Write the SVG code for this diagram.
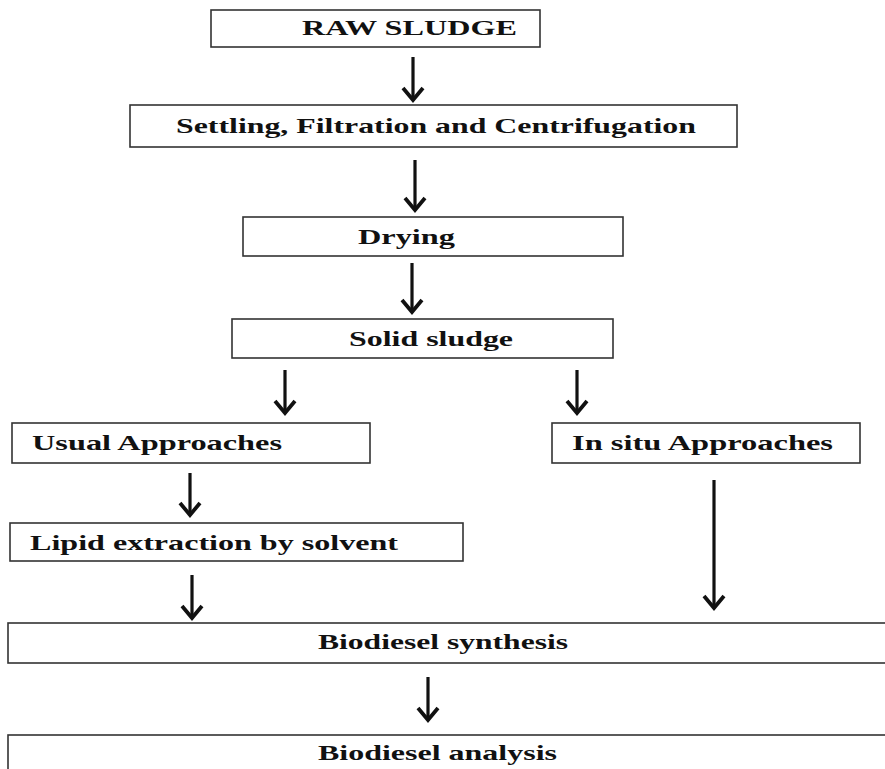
<svg xmlns="http://www.w3.org/2000/svg" width="885" height="769" viewBox="0 0 885 769">
<style>
.box{fill:#fff;stroke:#333;stroke-width:1.6}
.t{font-family:"Liberation Serif","Times New Roman",serif;font-weight:bold;fill:#111}
.tn{font-family:"Liberation Serif","Times New Roman",serif;font-weight:bold;fill:#111}
.arr{stroke:#111;stroke-width:3.2;fill:none;marker-end:url(#ah)}
</style>
<defs>
<marker id="ah" markerUnits="userSpaceOnUse" markerWidth="30" markerHeight="30" viewBox="-15 -15 30 30" refX="0" refY="0" orient="auto">
<path d="M-12,-10 L0,0 L-12,10" fill="none" stroke="#111" stroke-width="3.8" stroke-linejoin="miter"/>
</marker>
</defs>
<rect width="885" height="769" fill="#fff"/>
<g id="connectors">
<path class="arr" d="M413,57 V100"/>
<path class="arr" d="M415,160 V210"/>
<path class="arr" d="M412,263 V312"/>
<path class="arr" d="M285,370 V413"/>
<path class="arr" d="M577,370 V413"/>
<path class="arr" d="M190,473 V515"/>
<path class="arr" d="M192,575 V618"/>
<path class="arr" d="M714,480 V608"/>
<path class="arr" d="M428,677 V720"/>
</g>
<g id="raw-sludge">
<rect class="box" x="211" y="10" width="329" height="37"/>
<text class="t" x="302" y="35" font-size="22" textLength="215" lengthAdjust="spacingAndGlyphs">RAW SLUDGE</text>
</g>
<g id="settling">
<rect class="box" x="130" y="105" width="607" height="42"/>
<text class="t" x="176" y="133" font-size="21" textLength="520" lengthAdjust="spacingAndGlyphs">Settling, Filtration and Centrifugation</text>
</g>
<g id="drying">
<rect class="box" x="243" y="217" width="380" height="39"/>
<text class="t" x="358" y="244" font-size="21" textLength="97" lengthAdjust="spacingAndGlyphs">Drying</text>
</g>
<g id="solid-sludge">
<rect class="box" x="232" y="319" width="381" height="39"/>
<text class="t" x="349" y="346" font-size="21" textLength="164" lengthAdjust="spacingAndGlyphs">Solid sludge</text>
</g>
<g id="usual">
<rect class="box" x="12" y="423" width="358" height="40"/>
<text class="t" x="32" y="450" font-size="21" textLength="250" lengthAdjust="spacingAndGlyphs">Usual Approaches</text>
</g>
<g id="insitu">
<rect class="box" x="552" y="423" width="308" height="40"/>
<text class="t" x="572" y="450" font-size="21" textLength="261" lengthAdjust="spacingAndGlyphs">In situ Approaches</text>
</g>
<g id="lipid">
<rect class="box" x="10" y="523" width="453" height="38"/>
<text class="t" x="30" y="550" font-size="21" textLength="368" lengthAdjust="spacingAndGlyphs">Lipid extraction by solvent</text>
</g>
<g id="synthesis">
<rect class="box" x="8" y="623" width="890" height="40"/>
<text class="tn" x="318" y="649" font-size="21" textLength="250" lengthAdjust="spacingAndGlyphs">Biodiesel synthesis</text>
</g>
<g id="analysis">
<rect class="box" x="8" y="735" width="890" height="50"/>
<text class="tn" x="318" y="760" font-size="21" textLength="239" lengthAdjust="spacingAndGlyphs">Biodiesel analysis</text>
</g>
</svg>
